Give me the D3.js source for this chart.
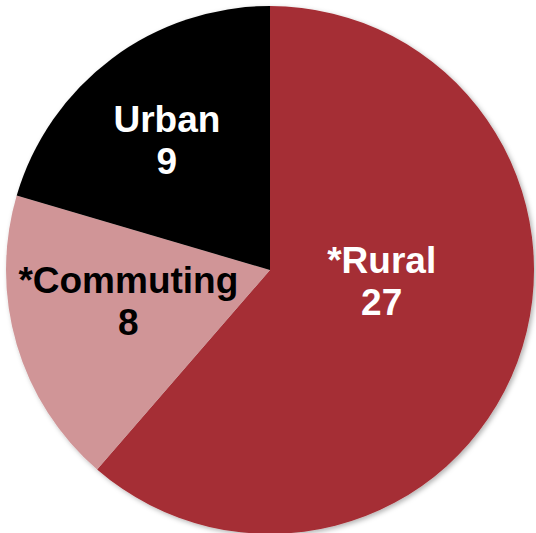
<!DOCTYPE html>
<meta charset="utf-8">
<title>Pie</title>
<style>
	body { margin: 0; background: #fff; }
	svg text { font-family: Arial, 'Liberation Sans', sans-serif; font-weight: bold; }
</style>
<body>
<div id="chart"></div>
<script src="https://d3js.org/d3.v7.min.js"></script>
<script>
	// donnees
	var categories = ["*Rural", "*Commuting", "Urban"];
	var values = [27, 8, 9];
	var colors = ["#A52D34", "#D09597", "#000000"];
	var labelColors = ["#fff", "#000", "#fff"];

	var width = 536, height = 533;
	var cx = 270, cy = 270, radius = 264;

	// petits decalages des etiquettes par rapport au centroide
	var labelNudge = [[-12, -36], [-15, -7], [-24, -25]];

	var svg = d3.select("#chart").append("svg")
		.attr("width", width)
		.attr("height", height);

	var defs = svg.append("defs");
	var f = defs.append("filter").attr("id", "ombre")
		.attr("x", "-10%").attr("y", "-10%").attr("width", "120%").attr("height", "120%");
	f.append("feDropShadow").attr("dx", 2).attr("dy", 2).attr("stdDeviation", 2.5)
		.attr("flood-color", "#000").attr("flood-opacity", 0.3);

	var data = categories.map(function (c, i) {
		return { cat: c, value: values[i], color: colors[i], lab: labelColors[i] };
	});

	var pie = d3.pie().sort(null).value(function (d) { return d.value; });
	var arc = d3.arc().innerRadius(0).outerRadius(radius);

	var g = svg.append("g").attr("transform", "translate(" + cx + "," + cy + ")");

	g.append("g").attr("filter", "url(#ombre)")
		.selectAll("path")
		.data(pie(data))
		.enter().append("path")
		.attr("d", arc)
		.attr("fill", function (d) { return d.data.color; });

	var labels = g.selectAll(".lbl")
		.data(pie(data))
		.enter().append("text")
		.attr("class", "lbl")
		.attr("text-anchor", "middle")
		.attr("fill", function (d) { return d.data.lab; })
		.style("font-size", "37px")
		.attr("transform", function (d, i) {
			var c = arc.centroid(d);
			return "translate(" + (c[0] + labelNudge[i][0]) + "," + (c[1] + labelNudge[i][1]) + ")";
		});
	labels.append("tspan").attr("x", 0).attr("y", -7.5).text(function (d) { return d.data.cat; });
	labels.append("tspan").attr("x", 0).attr("y", 35).text(function (d) { return d.data.value; });
</script>
</body>
